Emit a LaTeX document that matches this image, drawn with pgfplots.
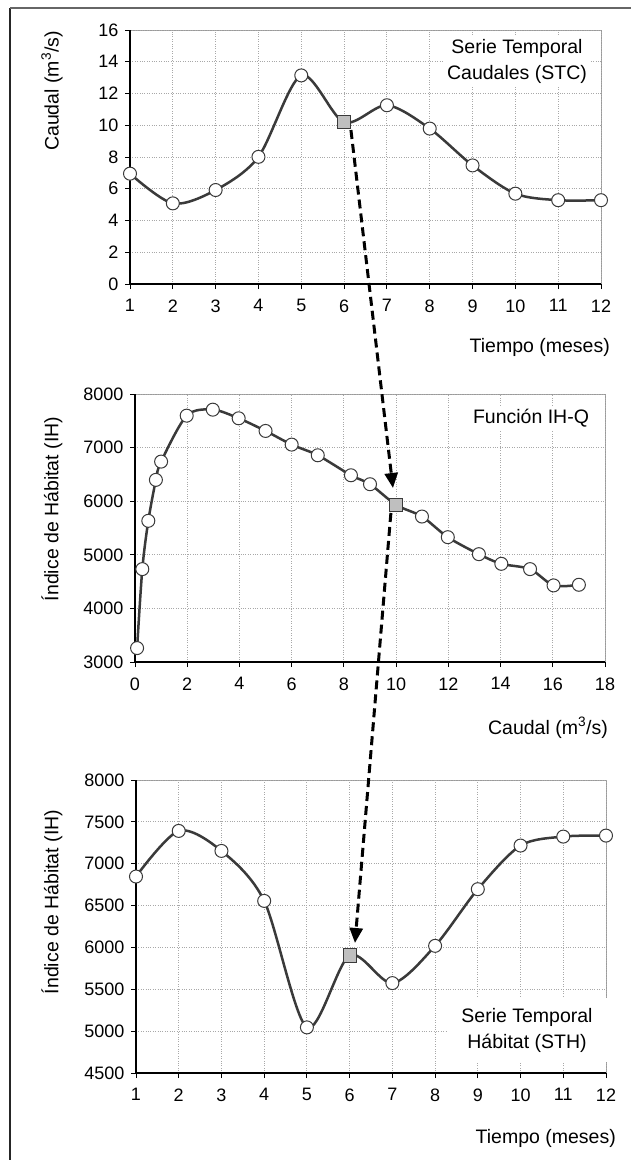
\documentclass[border=0pt]{standalone}
\usepackage{fontspec}
\setmainfont{Liberation Sans}
\usepackage{pgfplots}
\pgfplotsset{compat=1.18}
\usetikzlibrary{arrows.meta}
\definecolor{linec}{HTML}{3A3A3A}
\definecolor{gridc}{HTML}{A8A8A8}
\definecolor{borderc}{HTML}{9A9A9A}
\definecolor{sqfill}{HTML}{BFBFBF}
\newcommand{\lblfont}{\fontsize{19.5}{26}\selectfont}
\pgfplotsset{
  panel/.style={
    scale only axis,
    anchor=south west,
    axis x line*=bottom, axis y line*=left,
    axis line style={black, line width=1.2pt},
    axis background/.style={draw=borderc, line width=1pt},
    grid=major,
    major grid style={gridc, dotted, line width=0.9pt},
    tick align=outside,
    major tick length=5pt,
    tick style={black, line width=1pt},
    ticklabel style={font=\fontsize{18}{21}\selectfont},
    xticklabel style={yshift=-7pt},
    yticklabel style={xshift=-3pt},
    /pgf/number format/assume math mode=true,
    /pgf/number format/set thousands separator={},
    clip=false,
  },
  curve/.style={linec, line width=2.5pt, smooth, no marks},
  circ/.style={only marks, mark=*, mark size=6.5pt, mark options={fill=white, draw=linec, line width=1pt}},
  sq/.style={only marks, mark=square*, mark size=6.6pt, mark options={fill=sqfill, draw=linec, line width=1pt}},
}
\begin{document}
\begin{tikzpicture}
\useasboundingbox (0pt,0pt) rectangle (631pt,-1160pt);
\fill[white] (0pt,0pt) rectangle (631pt,-1160pt);
\draw[black!85, line width=1.5pt] (10pt,-1160pt) -- (10pt,-8pt);
\draw[black!60, line width=1.5pt] (10pt,-8pt) -- (631pt,-8pt);

% Panel 1
\begin{axis}[panel, at={(130pt,-284pt)}, width=471pt, height=254pt,
  xmin=1, xmax=12, ymin=0, ymax=16, xtick={1,...,12}, ytick={0,2,...,16}]
\addplot[curve] coordinates {(1,6.95)(2,5.08)(3,5.92)(4,8.01)(5,13.14)(6,10.19)(7,11.26)(8,9.79)(9,7.47)(10,5.69)(11,5.28)(12,5.28)};
\addplot[circ] coordinates {(1,6.95)(2,5.08)(3,5.92)(4,8.01)(5,13.14)(7,11.26)(8,9.79)(9,7.47)(10,5.69)(11,5.28)(12,5.28)};
\addplot[sq] coordinates {(6,10.19)};
\coordinate (a1) at (axis cs:6.16,9.7);
\end{axis}

% Panel 2
\begin{axis}[panel, at={(135pt,-662pt)}, width=470pt, height=268pt,
  xmin=0, xmax=18, ymin=3000, ymax=8000, xtick={0,2,...,18}, ytick={3000,4000,...,8000}]
\addplot[curve] coordinates {(0.08,3260)(0.28,4733)(0.51,5634)(0.80,6398)(1.0,6739)(1.98,7596)(2.98,7708)(3.97,7547)(5.0,7311)(6.0,7056)(7.0,6857)(8.27,6484)(9.0,6317)(10.0,5932)(10.99,5714)(11.98,5329)(13.17,5012)(14.03,4832)(15.13,4733)(16.03,4429)(17.0,4441)};
\addplot[circ] coordinates {(0.08,3260)(0.28,4733)(0.51,5634)(0.80,6398)(1.0,6739)(1.98,7596)(2.98,7708)(3.97,7547)(5.0,7311)(6.0,7056)(7.0,6857)(8.27,6484)(9.0,6317)(10.99,5714)(11.98,5329)(13.17,5012)(14.03,4832)(15.13,4733)(16.03,4429)(17.0,4441)};
\addplot[sq] coordinates {(10.0,5932)};
\coordinate (a2) at (axis cs:9.88,6246);
\coordinate (b1) at (axis cs:9.80,5780);
\end{axis}

% Panel 3
\begin{axis}[panel, at={(136pt,-1073pt)}, width=470pt, height=293pt,
  xmin=1, xmax=12, ymin=4500, ymax=8000, xtick={1,...,12}, ytick={4500,5000,...,8000}]
\addplot[curve] coordinates {(1,6847)(2,7392)(3,7153)(4,6556)(5,5045)(6,5904)(7,5574)(8,6019)(9,6696)(10,7217)(11,7324)(12,7336)};
\addplot[circ] coordinates {(1,6847)(2,7392)(3,7153)(4,6556)(5,5045)(7,5574)(8,6019)(9,6696)(10,7217)(11,7324)(12,7336)};
\addplot[sq] coordinates {(6,5904)};
\coordinate (b2) at (axis cs:6.125,6053);
\end{axis}

% annotations
\node[fill=white, align=center, font=\lblfont, inner sep=3pt] at (517pt,-61pt) {Serie Temporal\\Caudales (STC)};
\node[fill=white, font=\lblfont, inner sep=3pt] at (531pt,-418pt) {Función IH-Q};
\node[fill=white, align=center, font=\lblfont, minimum width=160pt, minimum height=64pt, inner sep=0pt] at (527pt,-1030pt) {Serie Temporal\\Hábitat (STH)};

% axis labels
\node[rotate=90, font=\lblfont, inner sep=0pt] at (52pt,-91pt) {Caudal (m\textsuperscript{3}/s)};
\node[anchor=east, font=\lblfont, inner sep=0pt] at (610pt,-347pt) {Tiempo (meses)};
\node[rotate=90, font=\lblfont, inner sep=0pt] at (52pt,-509pt) {Índice de Hábitat (IH)};
\node[anchor=east, font=\lblfont, inner sep=0pt] at (608pt,-728pt) {Caudal (m\textsuperscript{3}/s)};
\node[rotate=90, font=\lblfont, inner sep=0pt] at (52pt,-902pt) {Índice de Hábitat (IH)};
\node[anchor=east, font=\lblfont, inner sep=0pt] at (616pt,-1138pt) {Tiempo (meses)};

% arrows
\draw[black, line width=3pt, dash pattern=on 9pt off 5pt, -{Triangle[length=15pt,width=13pt]}] (a1) -- (a2);
\draw[black, line width=3pt, dash pattern=on 9pt off 5pt, -{Triangle[length=15pt,width=13pt]}] (b1) -- (b2);
\end{tikzpicture}
\end{document}
